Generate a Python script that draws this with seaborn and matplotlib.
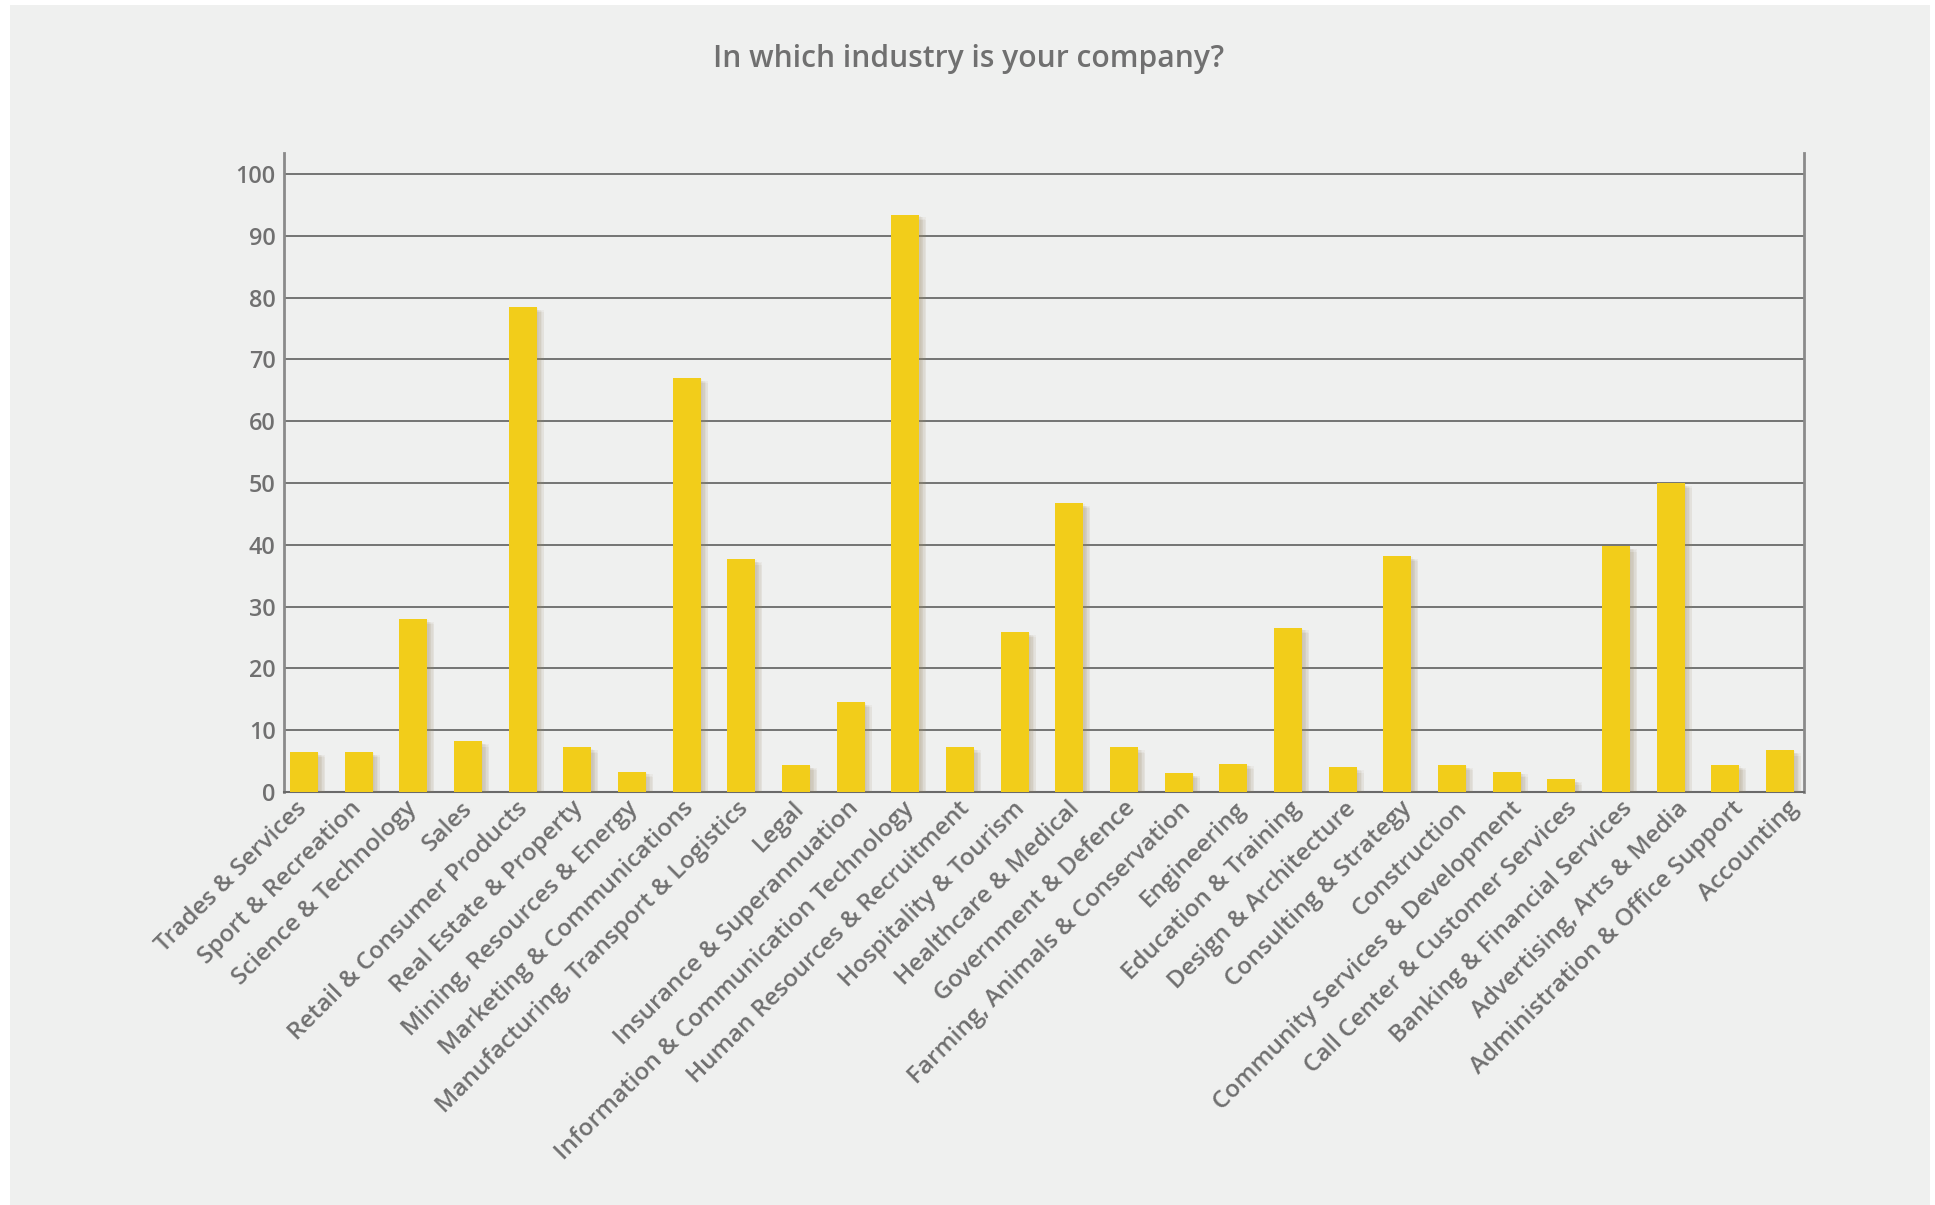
import matplotlib
matplotlib.use("Agg")
import matplotlib.pyplot as plt
import matplotlib.patheffects as pe
from matplotlib.patches import Rectangle
import seaborn as sns
import pandas as pd

# Survey answers: share of respondents per industry
industries = [
    "Trades & Services", "Sport & Recreation", "Science & Technology", "Sales",
    "Retail & Consumer Products", "Real Estate & Property",
    "Mining, Resources & Energy", "Marketing & Communications",
    "Manufacturing, Transport & Logistics", "Legal",
    "Insurance & Superannuation", "Information & Communication Technology",
    "Human Resources & Recruitment", "Hospitality & Tourism",
    "Healthcare & Medical", "Government & Defence",
    "Farming, Animals & Conservation", "Engineering", "Education & Training",
    "Design & Architecture", "Consulting & Strategy", "Construction",
    "Community Services & Development", "Call Center & Customer Services",
    "Banking & Financial Services", "Advertising, Arts & Media",
    "Administration & Office Support", "Accounting",
]
responses = [
    6.5, 6.5, 28.0, 8.2, 78.5, 7.2, 3.3, 67.0, 37.7, 4.4,
    14.6, 93.4, 7.2, 25.9, 46.8, 7.2, 3.1, 4.6, 26.6, 4.0,
    38.2, 4.4, 3.3, 2.1, 39.8, 50.0, 4.4, 6.8,
]
y_ticks = [0, 10, 20, 30, 40, 50, 60, 70, 80, 90, 100]

sns.set_theme(style="white")
plt.rcParams["font.family"] = ["Open Sans", "DejaVu Sans"]

TEXT = "#707070"
BAR = "#f2cd1a"
PANEL = "#eff0ef"

df = pd.DataFrame({"industry": industries, "share": responses})

fig = plt.figure(figsize=(19.35, 12.05), dpi=100, facecolor="white")
panel = Rectangle((10 / 1935, 0), 1920 / 1935, 1200 / 1205,
                  transform=fig.transFigure, facecolor=PANEL,
                  edgecolor="none", zorder=-10)
fig.patches.append(panel)

ax = fig.add_axes([0.14677, 0.34274, 0.78553, 0.52988])
ax.set_facecolor(PANEL)

sns.barplot(data=df, x="industry", y="share", color=BAR, saturation=1,
            width=0.512, linewidth=0, ax=ax, zorder=3)

# soft, blurred-looking drop shadow built from stacked translucent copies
shadow = [
    pe.SimplePatchShadow(offset=(dx, -dy), shadow_rgbFace="#9c8a66", alpha=0.07)
    for dx, dy in [(1, 1), (2, 2), (3, 2), (4, 3), (5, 4), (3, 4), (5, 2)]
] + [pe.Normal()]
for p in ax.patches:
    p.set_path_effects(shadow)

ax.set_xlim(-0.366, 27.44)
ax.set_ylim(0, 103.3)
ax.set_yticks(y_ticks)
ax.set_yticklabels([str(v) for v in y_ticks], fontsize=16.8,
                   fontweight="semibold", color=TEXT)
# category labels sit on a slightly wider pitch than the bars
label_pos = [-0.018 + 1.0108 * i for i in range(len(industries))]
ax.set_xticks(label_pos)
ax.set_xticklabels(industries, rotation=45, ha="right", va="center",
                   rotation_mode="anchor", fontsize=17.5,
                   fontweight="semibold", color=TEXT)
ax.tick_params(axis="both", length=0)
ax.tick_params(axis="y", pad=6)
ax.tick_params(axis="x", pad=9.5)
ax.set_xlabel("")
ax.set_ylabel("")

ax.yaxis.grid(True, color="#6a6a6a", linewidth=1.3)
ax.xaxis.grid(False)
ax.set_axisbelow(True)

for side in ("left", "right"):
    ax.spines[side].set_visible(True)
    ax.spines[side].set_color("#8a8a8a")
    ax.spines[side].set_linewidth(2)
ax.spines["bottom"].set_visible(True)
ax.spines["bottom"].set_color("#6a6a6a")
ax.spines["bottom"].set_linewidth(1.5)
ax.spines["top"].set_visible(False)

fig.text(0.5008, 1 - 59 / 1205, "In which industry is your company?",
         ha="center", va="center", fontsize=21.6, fontweight="semibold",
         color=TEXT)

fig.savefig("out.png", dpi=100, facecolor="white")
